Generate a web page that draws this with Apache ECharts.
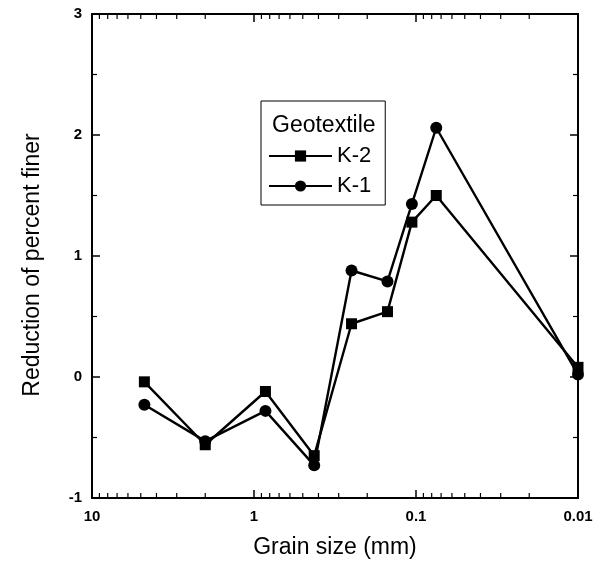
<!DOCTYPE html>
<html>
<head>
<meta charset="utf-8">
<script src="https://cdn.jsdelivr.net/npm/echarts@6/dist/echarts.min.js"></script>
<style>html,body{margin:0;padding:0;background:#fff}#c{width:606px;height:564px}</style>
</head>
<body>
<div id="c"></div>
<script>
// Grain sizes (mm)
const grainSize = [4.75, 2.0, 0.85, 0.425, 0.25, 0.15, 0.106, 0.075, 0.01];
// Reduction of percent finer
const k2Values = [-0.04, -0.56, -0.12, -0.65, 0.44, 0.54, 1.28, 1.50, 0.08];
const k1Values = [-0.23, -0.53, -0.28, -0.73, 0.88, 0.79, 1.43, 2.06, 0.02];
// Axis tick labels
const xTickLabels = {"10": "10", "1": "1", "0.1": "0.1", "0.01": "0.01"};
const yTicks = [-1, 0, 1, 2, 3];
// Log minor tick positions
const xMinorTicks = [9,8,7,6,5,4,3,2, 0.9,0.8,0.7,0.6,0.5,0.4,0.3,0.2, 0.09,0.08,0.07,0.06,0.05,0.04,0.03,0.02];

const FONT = 'Liberation Sans, Arial, Helvetica, sans-serif';
const chart = echarts.init(document.getElementById('c'), null, {renderer: 'canvas'});

function pairs(xs, ys) { return xs.map((x, i) => [x, ys[i]]); }

function fmtX(v) {
  const keys = Object.keys(xTickLabels);
  for (const k of keys) { if (Math.abs(Math.log10(v) - Math.log10(parseFloat(k))) < 1e-6) return xTickLabels[k]; }
  return '';
}

const axisLine = {show: true, onZero: false, lineStyle: {color: '#000', width: 2}};

const option = {
  animation: false,
  backgroundColor: '#fff',
  title: {
    text: 'Geotextile', left: 272, top: 114, padding: 0,
    textStyle: {fontFamily: FONT, fontSize: 23, fontWeight: 'normal', color: '#000'}
  },
  legend: {
    orient: 'vertical', left: 261, top: 101,
    padding: [44, 14, 8, 7], itemGap: 8,
    itemWidth: 63, itemHeight: 14,
    borderColor: '#000', borderWidth: 1,
    textStyle: {fontFamily: FONT, fontSize: 22, lineHeight: 20, color: '#000'},
    data: ['K-2', 'K-1']
  },
  grid: {left: 92, right: 28, top: 14, bottom: 65},
  xAxis: [{
    type: 'log', logBase: 10, min: 0.01, max: 10, inverse: true,
    position: 'bottom',
    name: 'Grain size (mm)', nameLocation: 'middle', nameGap: 38,
    nameTextStyle: {fontFamily: FONT, fontSize: 23, color: '#000'},
    axisLine: axisLine,
    axisTick: {show: true, inside: true, length: 8, lineStyle: {color: '#000', width: 1.5}},
    axisLabel: {fontFamily: FONT, fontSize: 15, fontWeight: 'bold', color: '#000', margin: 11, formatter: fmtX, showMinLabel: true, showMaxLabel: true},
    splitLine: {show: false}
  }, {
    type: 'log', logBase: 10, min: 0.01, max: 10, inverse: true,
    position: 'top',
    axisLine: axisLine,
    axisTick: {show: true, inside: true, length: 8, lineStyle: {color: '#000', width: 1.5}},
    axisLabel: {show: false},
    splitLine: {show: false}
  }],
  yAxis: [{
    type: 'value', min: -1, max: 3, interval: 1,
    name: 'Reduction of percent finer', nameLocation: 'middle', nameGap: 48,
    nameTextStyle: {fontFamily: FONT, fontSize: 23, color: '#000', padding: [0, 18, 0, 0]},
    axisLine: axisLine,
    axisTick: {show: true, inside: true, length: 8, lineStyle: {color: '#000', width: 1.5}},
    minorTick: {show: true, splitNumber: 2, length: 5, lineStyle: {color: '#000', width: 1.2}},
    axisLabel: {fontFamily: FONT, fontSize: 15, fontWeight: 'bold', color: '#000', margin: 10},
    splitLine: {show: false}
  }, {
    type: 'value', min: -1, max: 3, interval: 1, position: 'right',
    axisLine: axisLine,
    axisTick: {show: true, inside: true, length: 8, lineStyle: {color: '#000', width: 1.5}},
    minorTick: {show: true, splitNumber: 2, length: 5, lineStyle: {color: '#000', width: 1.2}},
    axisLabel: {show: false},
    splitLine: {show: false}
  }],
  series: [{
    name: 'K-2', type: 'line', data: pairs(grainSize, k2Values),
    symbol: 'rect', symbolSize: 11, showAllSymbol: true,
    lineStyle: {color: '#000', width: 2.4}, itemStyle: {color: '#000'}, z: 3
  }, {
    name: 'K-1', type: 'line', data: pairs(grainSize, k1Values),
    symbol: 'circle', symbolSize: 12, showAllSymbol: true,
    lineStyle: {color: '#000', width: 2.4}, itemStyle: {color: '#000'}, z: 4
  }, {
    name: 'minorTicks', type: 'custom', data: xMinorTicks.map(v => [v]),
    silent: true, clip: false,
    renderItem: function (params, api) {
      const b = api.coord([api.value(0), -1]);
      const t = api.coord([api.value(0), 3]);
      const style = {stroke: '#000', lineWidth: 1.2};
      return {type: 'group', children: [
        {type: 'line', shape: {x1: b[0], y1: b[1], x2: b[0], y2: b[1] - 5}, style: style},
        {type: 'line', shape: {x1: t[0], y1: t[1], x2: t[0], y2: t[1] + 5}, style: style}
      ]};
    }
  }]
};
chart.setOption(option);
</script>
</body>
</html>
